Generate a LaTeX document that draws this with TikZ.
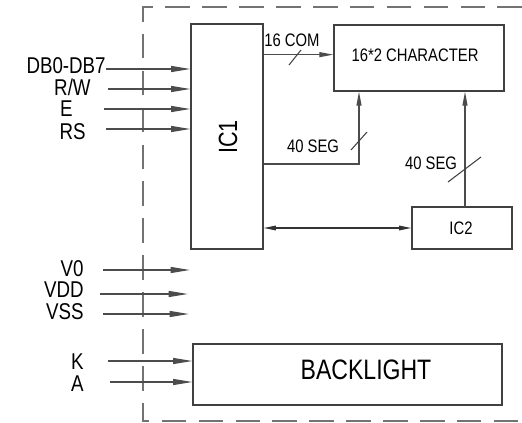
\documentclass[tikz,border=0pt]{standalone}
\usepackage{fontspec}
\setmainfont{Liberation Sans}[FakeStretch=0.82]
\usetikzlibrary{arrows.meta, calc}

\begin{document}
\begin{tikzpicture}[x=0.02cm, y=-0.02cm,
    box/.style={draw=black!75, line width=0.7pt, inner sep=0pt},
    sig/.style={draw=black!70, line width=0.7pt, -{Triangle[length=11pt,width=3.4pt]}},
    ssig/.style={draw=black!70, line width=0.7pt, -{Triangle[length=8pt,width=2.8pt]}},
    bus/.style={draw=black!80, line width=0.8pt, {Triangle[length=7pt,width=2.6pt]}-{Triangle[length=7pt,width=2.6pt]}},
    tick/.style={draw=black!75, line width=0.6pt},
    lbl/.style={inner sep=0pt, anchor=east, font=\fontsize{13}{13}\selectfont},
    tag/.style={inner sep=0pt, font=\fontsize{10.3}{11}\selectfont},
    frame/.style={draw=black!55, line width=0.7pt, dash pattern=on 14pt off 7pt}]
  \useasboundingbox (0,0) rectangle (522,423);

  % module outline
  \draw[frame] (522,7) -- (143,7) -- (143,421) -- (522,421);

  % blocks
  \node[box, minimum width=1.44cm, minimum height=4.5cm] (ic1) at (227,136.5) {};
  \node[rotate=90, inner sep=0pt, font=\fontsize{15}{15}\selectfont] (ic1t) at (228,137) {IC1};
  \node[box, minimum width=3.4cm, minimum height=1.32cm] (chr) at (419,58) {};
  \node[tag] (chrt) at (415,55) {16*2 CHARACTER};
  \node[box, minimum width=2cm, minimum height=0.84cm] (ic2) at (462,228) {};
  \node[tag] (ic2t) at (461,228) {IC2};
  \node[box, minimum width=6.18cm, minimum height=1.22cm] (bl) at (347.5,374.5) {};
  \node[inner sep=0pt, font=\fontsize{16}{16}\selectfont] (blt) at (366,370) {BACKLIGHT};

  % control inputs
  \foreach \n/\t/\lx/\ly/\sx/\sy in {d/DB0-DB7/106/66/106/69, rw/{R/W}/91/87/108/89,
      e/E/73/109/104/109, rs/RS/86/131.5/106/129} {
    \node[lbl] (l-\n) at (\lx,\ly) {\t};
    \coordinate (s-\n) at (\sx,\sy);
    \draw[sig] (s-\n) -- (s-\n -| ic1.west);
  }

  % power inputs
  \foreach \n/\t/\ly/\sx/\sy/\ex in {v0/V0/269/103/270/190, vdd/VDD/290/100/294/188,
      vss/VSS/312/103/314/189} {
    \node[lbl] (l-\n) at (84,\ly) {\t};
    \coordinate (s-\n) at (\sx,\sy);
    \coordinate (e-\n) at (\ex,\sy);
    \draw[sig] (s-\n) -- (e-\n);
  }

  % backlight
  \foreach \n/\t/\ly/\sx/\sy in {k/K/362/108/361, a/A/384/110/382} {
    \node[lbl] (l-\n) at (84,\ly) {\t};
    \coordinate (s-\n) at (\sx,\sy);
    \draw[sig] (s-\n) -- (s-\n -| bl.west);
  }

  % IC1 -> display
  \coordinate (com) at ($(chr.north west)!0.45!(chr.south west)$);
  \draw[ssig] (ic1.east |- com) -- (com);
  \draw[tick] (295,57) ++(-6,8) -- ++(12,-15);
  \node[tag] (comt) at (292,40) {16 COM};

  \coordinate (seg1) at (359,164);
  \draw[ssig] (ic1.east |- seg1) -- (seg1) -- (seg1 |- chr.south);
  \draw[tick] (359,141) ++(-8,9) -- ++(16,-18);
  \node[tag] (seg1t) at (313,146) {40 SEG};

  % IC2 -> display
  \coordinate (seg2) at (465,207);
  \draw[ssig] (seg2) -- (seg2 |- chr.south);
  \draw[tick] (465,170) ++(-17,12) -- ++(33,-25);
  \node[tag] (seg2t) at (431,163) {40 SEG};

  % IC1 <-> IC2
  \draw[bus] (ic1.east |- ic2.west) -- (ic2.west);
\end{tikzpicture}
\end{document}
